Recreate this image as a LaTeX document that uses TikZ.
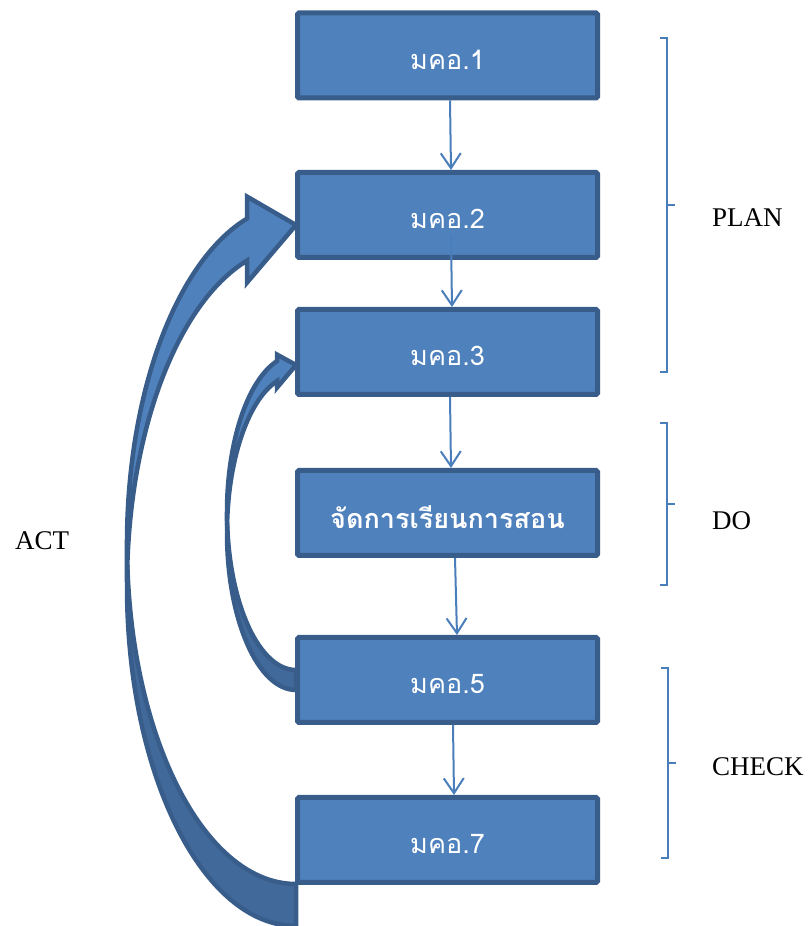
\documentclass[tikz,border=0pt]{standalone}
\usepackage{fontspec}
\setmainfont{Liberation Serif}
\newfontfamily\thaifont[Script=Thai]{Loma}
\usetikzlibrary{arrows.meta}
\definecolor{boxfill}{HTML}{4F81BD}
\definecolor{boxline}{HTML}{385D8A}
\definecolor{backfill}{HTML}{41699A}
\definecolor{conn}{HTML}{4A7EBB}
\newcommand\boxtext[1]{\raisebox{-4pt}[\height][\depth]{#1}}
\begin{document}
\begin{tikzpicture}[x=1pt,y=1pt,
  stagebox/.style={draw=boxline, fill=boxfill, line width=5pt, minimum width=300pt,
    minimum height=85pt, rounded corners=1.5pt, text=white, inner sep=0pt,
    font=\thaifont\fontsize{27}{31}\selectfont},
  flow/.style={draw=conn, line width=2pt, -{Straight Barb[length=15pt,width=20pt]}},
  bracketline/.style={draw=conn, line width=2pt},
  phase/.style={font=\fontsize{27}{32}\selectfont, anchor=base west, inner sep=0pt},
  arrowface/.style={fill=boxfill},
  arrowback/.style={fill=backfill},
  arrowedge/.style={draw=boxline, line width=4.5pt, line join=miter}
]
\useasboundingbox (0,0) rectangle (811,926);

% big curved arrow (ACT loop: box 7 -> box 2)
\path[arrowface] (127,340) arc[start angle=180, end angle=106.85, x radius=169, y radius=340]
  -- (247,643.4) -- (296,701) -- (247,729.4) -- (247,707.4)
  arc[start angle=106.85, end angle=180, x radius=169, y radius=340] -- cycle;
\path[arrowback] (296,42) arc[start angle=270, end angle=183.54, x radius=169, y radius=340]
  arc[start angle=176.46, end angle=270, x radius=169, y radius=340] -- cycle;
\path[arrowedge] (127,340) arc[start angle=180, end angle=106.85, x radius=169, y radius=340]
  -- (247,643.4) -- (296,701) -- (247,729.4) -- (247,707.4)
  arc[start angle=106.85, end angle=180, x radius=169, y radius=340] -- cycle;
\path[arrowedge] (127,340) arc[start angle=180, end angle=270, x radius=169, y radius=340]
  -- (296,42) arc[start angle=270, end angle=183.54, x radius=169, y radius=340];

% small curved arrow (box 5 -> box 3)
\path[arrowface] (227,393.5) arc[start angle=180, end angle=105.98, x radius=69, y radius=157.5]
  -- (277,538.4) -- (296,561) -- (277,571.4) -- (277,564.9)
  arc[start angle=105.98, end angle=180, x radius=69, y radius=157.5] -- cycle;
\path[arrowback] (296,256) arc[start angle=270, end angle=183.64, x radius=69, y radius=157.5]
  arc[start angle=176.36, end angle=270, x radius=69, y radius=157.5] -- cycle;
\path[arrowedge] (227,393.5) arc[start angle=180, end angle=105.98, x radius=69, y radius=157.5]
  -- (277,538.4) -- (296,561) -- (277,571.4) -- (277,564.9)
  arc[start angle=105.98, end angle=180, x radius=69, y radius=157.5] -- cycle;
\path[arrowedge] (227,393.5) arc[start angle=180, end angle=270, x radius=69, y radius=157.5]
  -- (296,256) arc[start angle=270, end angle=183.64, x radius=69, y radius=157.5];

% boxes
\node[stagebox] (b1) at (447.5,870.5) {\boxtext{มคอ.1}};
\node[stagebox] (b2) at (447.5,711) {\boxtext{มคอ.2}};
\node[stagebox] (b3) at (447.5,574) {\boxtext{มคอ.3}};
\node[stagebox] (b4) at (447.5,413) {\boxtext{\bfseries จัดการเรียนการสอน}};
\node[stagebox] (b5) at (447.5,246) {\boxtext{มคอ.5}};
\node[stagebox] (b7) at (447.5,86) {\boxtext{มคอ.7}};

% connectors
\coordinate (b2out) at (451,690);
\draw[flow] ([xshift=2.5pt]b1.south) -- ([xshift=3.5pt]b2.north);
\draw[flow] (b2out) -- ([xshift=4.5pt]b3.north);
\draw[flow] ([xshift=2.5pt]b3.south) -- ([xshift=3.5pt]b4.north);
\draw[flow] ([xshift=7.5pt]b4.south) -- ([xshift=9.5pt]b5.north);
\draw[flow] ([xshift=5.5pt]b5.south) -- ([xshift=6.5pt]b7.north);

% brackets
\draw[bracketline] (660,888) -- (667,888) -- (667,554) -- (660,554) (667,721) -- (675,721);
\draw[bracketline] (660,503) -- (667,503) -- (667,341) -- (660,341) (667,422) -- (675,422);
\draw[bracketline] (661,258) -- (668,258) -- (668,68) -- (661,68) (668,163) -- (676,163);

% labels
\node[phase] (plan) at (712,699) {PLAN};
\node[phase] (do) at (712,396) {DO};
\node[phase] (check) at (712,150) {CHECK};
\node[phase] (act) at (15,376) {ACT};
\end{tikzpicture}
\end{document}
